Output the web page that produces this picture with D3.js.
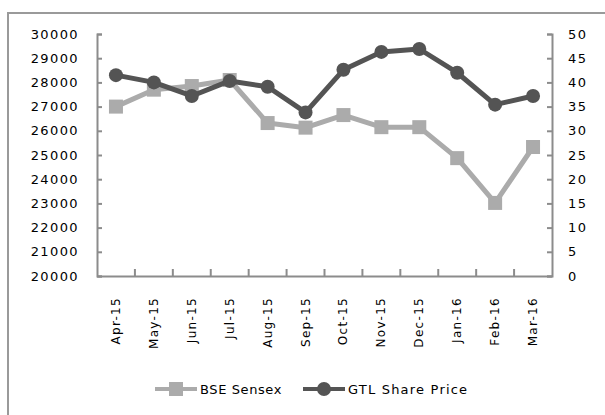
<!DOCTYPE html>
<html>
<head>
<meta charset="utf-8">
<script src="https://cdn.jsdelivr.net/npm/d3@7"></script>
<style>
  body { margin: 0; background: #fff; }
  text { font-family: "DejaVu Sans", sans-serif; fill: #000; }
</style>
</head>
<body>
<div class="chart"></div>
<script>
// data
const months = ["Apr-15", "May-15", "Jun-15", "Jul-15", "Aug-15", "Sep-15",
                "Oct-15", "Nov-15", "Dec-15", "Jan-16", "Feb-16", "Mar-16"];
const sensex = [27000, 27700, 27850, 28100, 26320, 26130, 26650, 26150, 26150, 24870, 23020, 25330];
const gtl = [41.5, 40, 37.2, 40.3, 39.1, 33.8, 42.6, 46.3, 46.9, 42.0, 35.4, 37.2];
const leftTicks = [20000, 21000, 22000, 23000, 24000, 25000, 26000, 27000, 28000, 29000, 30000];
const rightTicks = [0, 5, 10, 15, 20, 25, 30, 35, 40, 45, 50];
const seriesNames = ["BSE Sensex", "GTL Share Price"];

let width = 605, height = 415;
let svg = d3.select(".chart").append("svg")
  .attr("width", width)
  .attr("height", height);

// outer frame (only top/left visible in the picture)
svg.append("rect")
  .attr("x", 8).attr("y", 13)
  .attr("width", 620).attr("height", 420)
  .attr("fill", "none")
  .attr("stroke", "#9a9a9a")
  .attr("stroke-width", 2);

let margin = {top: 34, right: 53, bottom: 139, left: 97};
let insideWidth = width - margin.left - margin.right;
let insideHeight = height - margin.top - margin.bottom;
let g = svg.append("g").attr("transform", "translate(" + margin.left + "," + margin.top + ")");

let xScale = d3.scaleBand().domain(months).range([0, insideWidth]);
let yLeft = d3.scaleLinear().domain([20000, 30000]).range([insideHeight, 0]);
let yRight = d3.scaleLinear().domain([0, 50]).range([insideHeight, 0]);
let cx = d => xScale(d) + xScale.bandwidth() / 2;

const axisColor = "#8c8c8c";

// left axis
let la = g.append("g")
  .call(d3.axisLeft(yLeft).tickValues(leftTicks).tickSize(-5).tickPadding(18).tickFormat(d3.format("d")));
// right axis
let ra = g.append("g")
  .attr("transform", "translate(" + insideWidth + ",0)")
  .call(d3.axisRight(yRight).tickValues(rightTicks).tickSize(-5).tickPadding(16));
// x axis: tick marks at category boundaries
let xa = g.append("g")
  .attr("transform", "translate(0," + insideHeight + ")")
  .call(d3.axisBottom(xScale).tickSize(0).tickFormat(""));
xa.selectAll(".bound")
  .data(months.slice(1))
  .join("line")
  .attr("class", "bound")
  .attr("x1", d => xScale(d)).attr("x2", d => xScale(d))
  .attr("y1", 0).attr("y2", -7)
  .attr("stroke", axisColor).attr("stroke-width", 2);

[la, ra, xa].forEach(a => {
  a.select(".domain").attr("stroke", axisColor).attr("stroke-width", 2);
  a.selectAll(".tick line").attr("stroke", axisColor).attr("stroke-width", 2);
  a.selectAll("text")
    .style("font-size", "13px")
    .style("letter-spacing", "1.4px")
    .attr("fill", "#000");
});

// x labels rotated
g.selectAll(".xlab")
  .data(months)
  .join("text")
  .attr("class", "xlab")
  .attr("transform", d => "translate(" + (cx(d) + 4) + "," + (insideHeight + 21) + ") rotate(-90)")
  .attr("text-anchor", "end")
  .style("font-size", "12px")
  .style("letter-spacing", "1.3px")
  .text(d => d);

// series
let lineL = d3.line().x((d, i) => cx(months[i])).y(d => yLeft(d));
let lineR = d3.line().x((d, i) => cx(months[i])).y(d => yRight(d));

g.append("path").datum(sensex)
  .attr("d", lineL).attr("fill", "none")
  .attr("stroke", "#ababab").attr("stroke-width", 5).attr("stroke-linejoin", "round");
g.selectAll(".sq").data(sensex).join("rect")
  .attr("class", "sq")
  .attr("x", (d, i) => cx(months[i]) - 7)
  .attr("y", d => yLeft(d) - 7)
  .attr("width", 14).attr("height", 14)
  .attr("fill", "#ababab");

g.append("path").datum(gtl)
  .attr("d", lineR).attr("fill", "none")
  .attr("stroke", "#545454").attr("stroke-width", 5).attr("stroke-linejoin", "round");
g.selectAll(".dot").data(gtl).join("circle")
  .attr("class", "dot")
  .attr("cx", (d, i) => cx(months[i]))
  .attr("cy", d => yRight(d))
  .attr("r", 7)
  .attr("fill", "#545454");

// legend
let legend = svg.append("g").attr("transform", "translate(0,389)");
let items = [
  {name: seriesNames[0], x: 155, color: "#ababab", shape: "square", ls: "0.6px"},
  {name: seriesNames[1], x: 303, color: "#545454", shape: "circle", ls: "1.2px"}
];
items.forEach(it => {
  legend.append("line")
    .attr("x1", it.x).attr("x2", it.x + 42)
    .attr("y1", 0).attr("y2", 0)
    .attr("stroke", it.color).attr("stroke-width", 4);
  if (it.shape === "square") {
    legend.append("rect").attr("x", it.x + 14).attr("y", -7).attr("width", 14).attr("height", 14).attr("fill", it.color);
  } else {
    legend.append("circle").attr("cx", it.x + 21).attr("cy", 0).attr("r", 7).attr("fill", it.color);
  }
  legend.append("text")
    .attr("x", it.x + 45).attr("y", 5)
    .style("font-size", "13px")
    .style("letter-spacing", it.ls)
    .text(it.name);
});
</script>
</body>
</html>
